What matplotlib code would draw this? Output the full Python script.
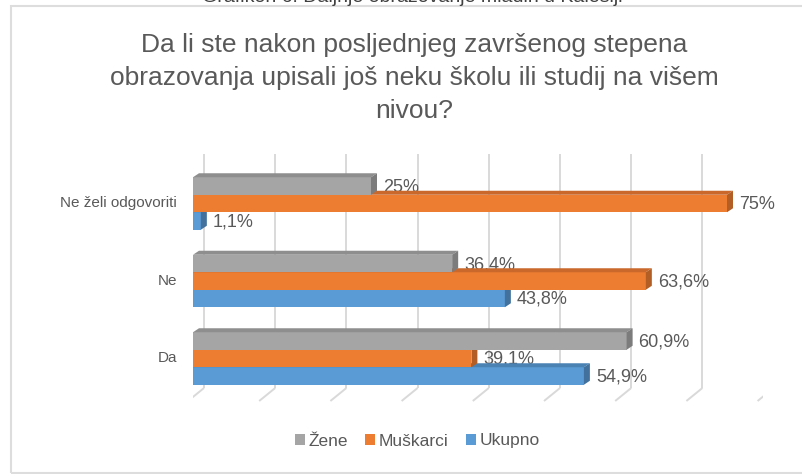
import numpy as np
import matplotlib
matplotlib.use("Agg")
import matplotlib.pyplot as plt
from matplotlib import font_manager
from matplotlib.patches import Polygon, Rectangle, Patch

# data
categories = ["Da", "Ne", "Ne želi odgovoriti"]
series_names = ["Žene", "Muškarci", "Ukupno"]
zene = [60.9, 36.4, 25.0]
muskarci = [39.1, 63.6, 75.0]
ukupno = [54.9, 43.8, 1.1]
value_labels = {
    "Žene": ["60,9%", "36,4%", "25%"],
    "Muškarci": ["39,1%", "63,6%", "75%"],
    "Ukupno": ["54,9%", "43,8%", "1,1%"],
}
title = ("Da li ste nakon posljednjeg završenog stepena\n"
         "obrazovanja upisali još neku školu ili studij na višem\n"
         "nivou?")
caption = "Grafikon 6: Daljnje obrazovanje mladih u Kalesiji"

installed = {f.name for f in font_manager.fontManager.ttflist}
FONT = "Liberation Sans" if "Liberation Sans" in installed else "DejaVu Sans"

TXT = "#595959"
front_col = {"Žene": "#A5A5A5", "Muškarci": "#ED7D31", "Ukupno": "#5B9BD5"}
side_col = {"Žene": "#7C7C7C", "Muškarci": "#B35E24", "Ukupno": "#41719C"}
top_col = {"Žene": "#8E8E8E", "Muškarci": "#C9682A", "Ukupno": "#4A82B4"}

W, H = 803, 474
fig = plt.figure(figsize=(W / 100, H / 100), dpi=100)

# axes placed so 0..80 % spans the front plane of the bars
x0_px, px_per_pct = 193, 7.12
yc_px, px_per_cat = 358.5, 77.5
ylim = (-0.6, 2.64)
top_px = yc_px - px_per_cat * ylim[1]
bot_px = yc_px - px_per_cat * ylim[0]
ax = fig.add_axes([x0_px / W, 1 - bot_px / H, 80 * px_per_pct / W, (bot_px - top_px) / H])
ax.set_xlim(0, 80)
ax.set_ylim(*ylim)
ax.axis("off")

# 3d depth of bars and of the floor (in data units)
bdx, bdy = 6 / px_per_pct, 4 / px_per_cat
floor_front, floor_back = -5 / px_per_pct, 11 / px_per_pct
floor_y0, floor_y1 = (yc_px - 401) / px_per_cat, (yc_px - 388) / px_per_cat

for k in range(9):
    gx = 10 * k
    ax.plot([gx + floor_front, gx + floor_back], [floor_y0, floor_y1],
            color="#D9D9D9", lw=1.4, zorder=1, solid_capstyle="butt")
    ax.plot([gx + floor_back, gx + floor_back], [floor_y1, ylim[1]],
            color="#D9D9D9", lw=1.4, zorder=1, solid_capstyle="butt")

y = np.arange(len(categories))
h = 17.5 / px_per_cat
series = [("Ukupno", ukupno, -h, 3), ("Muškarci", muskarci, 0, 4), ("Žene", zene, h, 5)]

for name, vals, off, z in series:
    yy = y + off
    ax.barh(yy, vals, height=h, color=front_col[name], zorder=z, linewidth=0)
    for v, c, lab in zip(vals, yy, value_labels[name]):
        yb, yt = c - h / 2, c + h / 2
        ax.add_patch(Polygon([(0, yt), (v, yt), (v + bdx, yt + bdy), (bdx, yt + bdy)],
                             closed=True, facecolor=top_col[name], lw=0, zorder=z))
        ax.add_patch(Polygon([(v, yb), (v, yt), (v + bdx, yt + bdy), (v + bdx, yb + bdy)],
                             closed=True, facecolor=side_col[name], lw=0, zorder=z))
        ax.text(v + 12 / px_per_pct, c - 1 / px_per_cat, lab, ha="left", va="center",
                fontsize=13, color=TXT, family=FONT, zorder=2.5)

for c, lab in zip(y, categories):
    ax.text(-16 / px_per_pct, c, lab, ha="right", va="center",
            fontsize=11, color=TXT, family=FONT)

fig.text(414 / W, 1 - 78 / H, title, ha="center", va="center", fontsize=19,
         color=TXT, family=FONT, linespacing=1.45)
# caption of the page sits above the chart frame and is cut by the image edge
fig.text(412 / W, 1 - 6 / H, caption, ha="center", va="bottom", fontsize=14,
         color="#404040", family=FONT)

fig.patches.append(Rectangle((11 / W, 1 - 473 / H), 1, (473 - 6) / H,
                             transform=fig.transFigure, fill=False,
                             edgecolor="#DDDDDD", lw=1.5))

handles = [Patch(facecolor=front_col[n], edgecolor="none") for n in series_names]
fig.legend(handles, series_names, loc="center", bbox_to_anchor=(417 / W, 1 - 441 / H),
           ncol=3, frameon=False, prop={"family": FONT, "size": 12.5},
           labelcolor=TXT, handlelength=0.58, handleheight=0.58,
           handletextpad=0.2, columnspacing=1.0)

fig.savefig("out.png", dpi=100)
